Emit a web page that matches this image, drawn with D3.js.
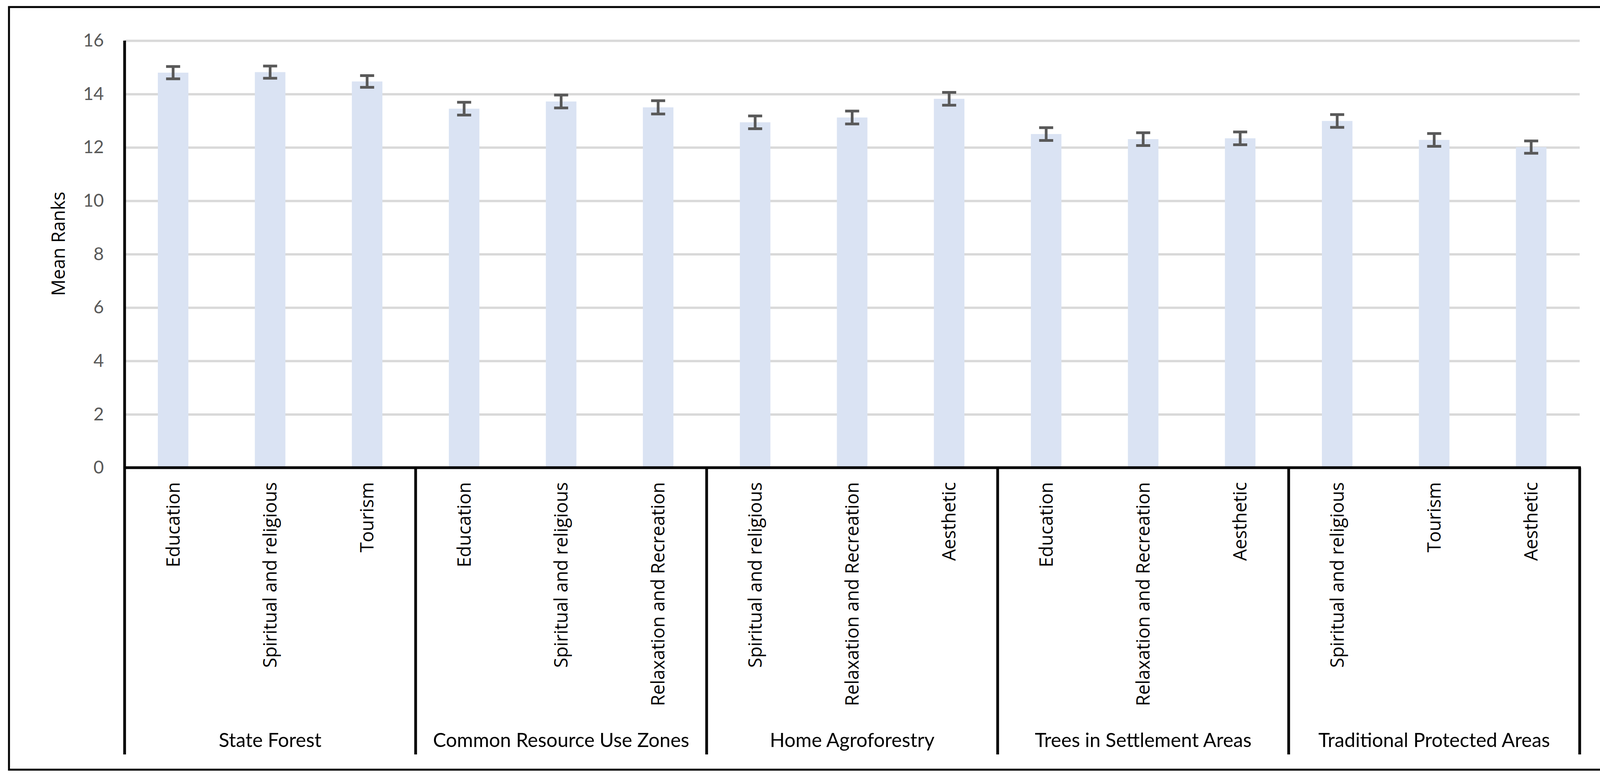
<!DOCTYPE html>
<html>
<head>
<meta charset="utf-8">
<script src="https://cdn.jsdelivr.net/npm/d3@7"></script>
<style>
  body { margin: 0; background: #fff; }
  svg { display: block; }
</style>
</head>
<body>
<svg id="chart" width="4156" height="1999"></svg>
<script>

// groups along the bottom, each holds three bars
const groups = ["State Forest", "Common Resource Use Zones", "Home Agroforestry",
  "Trees in Settlement Areas", "Traditional Protected Areas"];

const categories = [
  "Education", "Spiritual and religious", "Tourism",
  "Education", "Spiritual and religious", "Relaxation and Recreation",
  "Spiritual and religious", "Relaxation and Recreation", "Aesthetic",
  "Education", "Relaxation and Recreation", "Aesthetic",
  "Spiritual and religious", "Tourism", "Aesthetic"
];

const meanRanks = [14.80, 14.82, 14.47, 13.45, 13.72, 13.50, 12.94, 13.12, 13.82,
  12.50, 12.31, 12.34, 12.99, 12.28, 12.01];

const errors = [0.23, 0.23, 0.22, 0.24, 0.24, 0.25, 0.24, 0.24, 0.24,
  0.24, 0.24, 0.24, 0.24, 0.24, 0.23];

const yTicks = [0, 2, 4, 6, 8, 10, 12, 14, 16];

const perGroup = 3;


const svg = d3.select("#chart");

const plotLeft = 319, plotRight = 4044, plotTop = 104, plotBottom = 1197;
const labelBottom = 1931;

const x = d3.scaleBand()
    .domain(d3.range(categories.length))
    .range([plotLeft, plotRight])
    .paddingInner(0.685)
    .paddingOuter(0.3425);

const y = d3.scaleLinear()
    .domain([0, 16])
    .range([plotBottom, plotTop]);

// outer frame
svg.append("rect")
    .attr("x", 23)
    .attr("y", 18)
    .attr("width", 4107)
    .attr("height", 1952)
    .attr("fill", "none")
    .attr("stroke", "#000")
    .attr("stroke-width", 5);

// gridlines
const grid = svg.append("g")
    .attr("transform", "translate(" + plotLeft + ",0)")
    .call(d3.axisLeft(y).tickValues(yTicks).tickSize(-(plotRight - plotLeft)).tickFormat(""));
grid.select(".domain").remove();
grid.selectAll("line").attr("stroke", "#d9d9d9").attr("stroke-width", 6);

// tick labels
const yAxis = svg.append("g")
    .attr("transform", "translate(" + plotLeft + ",0)")
    .call(d3.axisLeft(y).tickValues(yTicks).tickSize(0).tickPadding(53));
yAxis.select(".domain").remove();
yAxis.selectAll("text")
    .attr("fill", "#595959")
    .style("font-family", "Lato, 'Open Sans', sans-serif")
    .style("font-size", "46px");

// bars
svg.append("g")
    .selectAll("rect")
    .data(meanRanks)
    .enter().append("rect")
    .attr("x", (d, i) => x(i))
    .attr("y", d => y(d))
    .attr("width", x.bandwidth())
    .attr("height", d => y(0) - y(d))
    .attr("fill", "#dae3f3");

// error bars
const capW = 36;
const err = svg.append("g")
    .attr("stroke", "#595959")
    .attr("stroke-width", 7);

meanRanks.forEach(function (d, i) {
  const cx = x(i) + x.bandwidth() / 2;
  const hi = y(d + errors[i]), lo = y(d - errors[i]);
  err.append("line").attr("x1", cx).attr("x2", cx).attr("y1", hi).attr("y2", lo);
  err.append("line").attr("x1", cx - capW / 2).attr("x2", cx + capW / 2).attr("y1", hi).attr("y2", hi);
  err.append("line").attr("x1", cx - capW / 2).attr("x2", cx + capW / 2).attr("y1", lo).attr("y2", lo);
});

// axes and group dividers
const axes = svg.append("g")
    .attr("stroke", "#000")
    .attr("stroke-width", 7);

axes.append("line")
    .attr("x1", plotLeft).attr("x2", plotLeft)
    .attr("y1", plotTop).attr("y2", labelBottom);

axes.append("line")
    .attr("x1", plotLeft - 3).attr("x2", plotRight + 3)
    .attr("y1", y(0)).attr("y2", y(0));

const groupEdge = g => plotLeft + x.step() * perGroup * g;

axes.selectAll(".divider")
    .data(d3.range(1, groups.length + 1))
    .enter().append("line")
    .attr("class", "divider")
    .attr("x1", d => groupEdge(d)).attr("x2", d => groupEdge(d))
    .attr("y1", y(0)).attr("y2", labelBottom);

// category labels
svg.append("g")
    .selectAll("text")
    .data(categories)
    .enter().append("text")
    .attr("transform", (d, i) => "translate(" + (x(i) + x.bandwidth() / 2) + ",1234) rotate(-90)")
    .attr("text-anchor", "end")
    .attr("dy", "0.35em")
    .style("font-family", "'Open Sans', sans-serif")
    .style("font-size", "47px")
    .attr("fill", "#000")
    .text(d => d);

// group labels
svg.append("g")
    .selectAll("text")
    .data(groups)
    .enter().append("text")
    .attr("x", (d, i) => (groupEdge(i) + groupEdge(i + 1)) / 2)
    .attr("y", 1912)
    .attr("text-anchor", "middle")
    .style("font-family", "Lato, sans-serif")
    .style("font-size", "50px")
    .attr("fill", "#000")
    .text(d => d);

// y axis title
svg.append("text")
    .attr("transform", "translate(150,624) rotate(-90)")
    .attr("text-anchor", "middle")
    .attr("dy", "0.35em")
    .style("font-family", "'Open Sans', sans-serif")
    .style("font-size", "47px")
    .attr("fill", "#000")
    .text("Mean Ranks");

</script>
</body>
</html>
